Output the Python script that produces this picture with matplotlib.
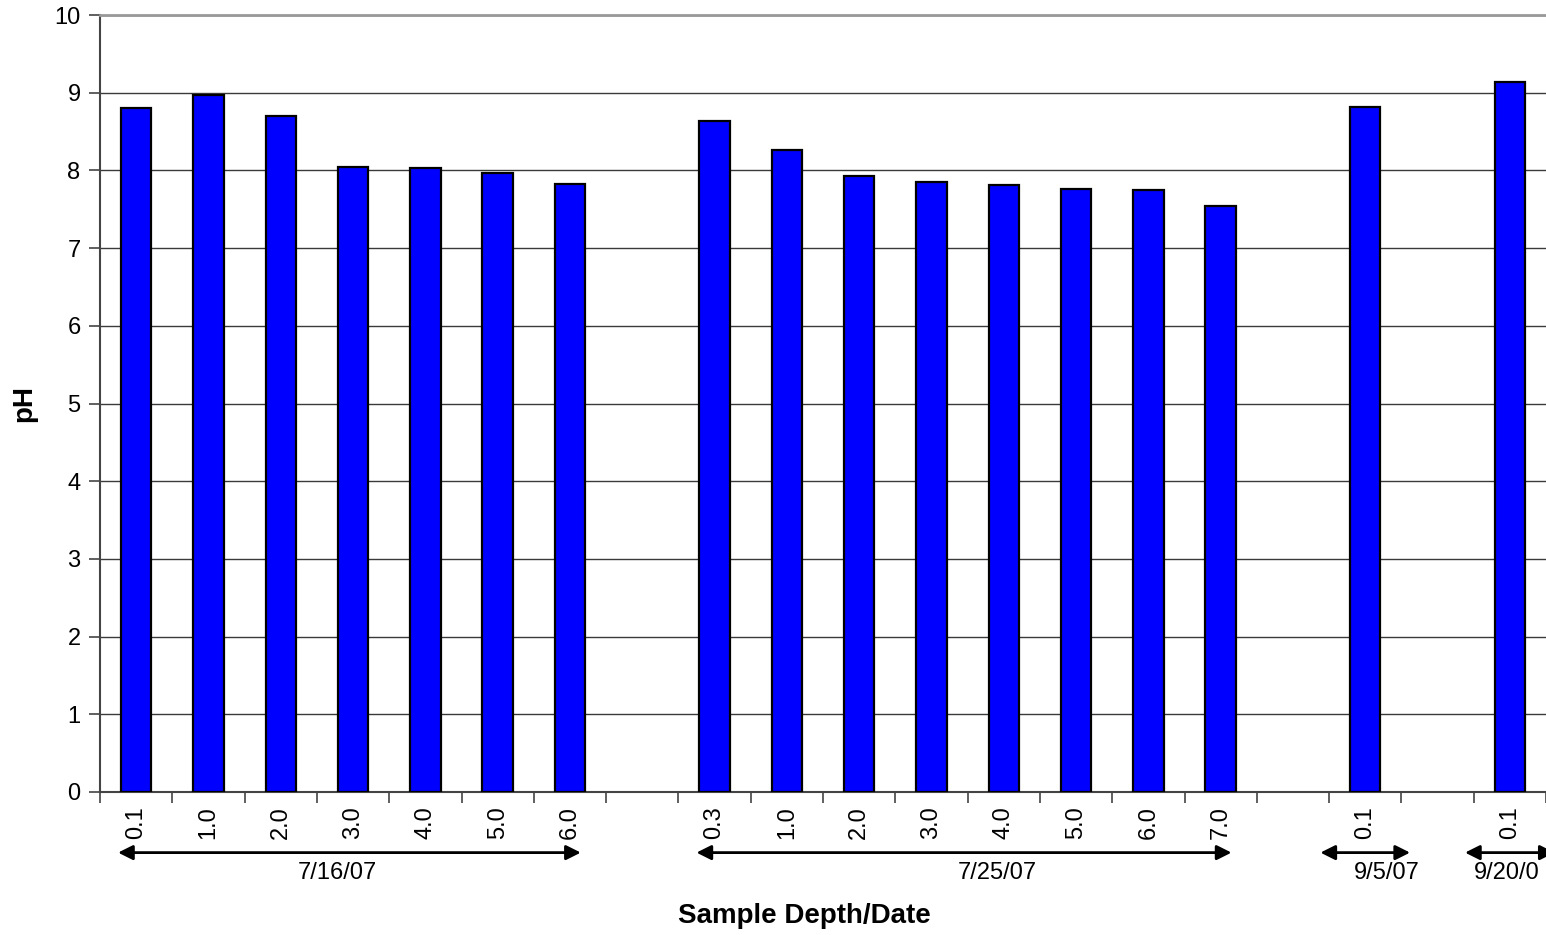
import numpy as np
import matplotlib.pyplot as plt
from matplotlib.transforms import blended_transform_factory

plt.rcParams['font.family'] = ['Liberation Sans', 'DejaVu Sans']

# sample depth labels (blank slots separate the sampling dates)
depths = ['0.1', '1.0', '2.0', '3.0', '4.0', '5.0', '6.0', '',
          '0.3', '1.0', '2.0', '3.0', '4.0', '5.0', '6.0', '7.0', '',
          '0.1', '', '0.1']
ph = [8.80, 8.97, 8.70, 8.04, 8.03, 7.97, 7.82, np.nan,
      8.64, 8.26, 7.93, 7.85, 7.81, 7.76, 7.75, 7.54, np.nan,
      8.82, np.nan, 9.14]
dates = ['7/16/07', '7/25/07', '9/5/07', '9/20/0']
date_first = [0, 8, 17, 19]
date_last = [6, 15, 17, 19]

fig = plt.figure(figsize=(15.46, 9.35), dpi=100)
ax = fig.add_axes([100/1546, 1 - 792/935, 1446/1546, 777/935])

x = np.arange(len(depths))
ax.bar(x, ph, width=0.42, color='#0000ff', edgecolor='black', linewidth=1.6, zorder=3)

ax.set_xlim(-0.5, len(depths) - 0.5)
ax.set_ylim(0, 10)
ax.set_yticks(range(0, 11))
ax.yaxis.grid(True, color='#3a3a3a', linewidth=1, zorder=0)

# major ticks on slot boundaries, labels on minor ticks at bar centres
ax.set_xticks(np.arange(-0.5, len(depths), 1.0))
ax.set_xticklabels([])
ax.set_xticks(x, minor=True)
ax.set_xticklabels(depths, minor=True, rotation=90, fontsize=17)
ax.tick_params(axis='x', which='major', length=8, width=1.2, color='#444444', direction='out')
ax.tick_params(axis='x', which='minor', length=0, pad=10)
ax.tick_params(axis='y', length=8, width=1.2, color='#444444', labelsize=17, pad=6)

for s in ['left', 'bottom']:
    ax.spines[s].set_color('#444444')
    ax.spines[s].set_linewidth(1.5)
ax.spines['top'].set_color('#999999')
ax.spines['top'].set_linewidth(2)
ax.spines['right'].set_visible(False)

ax.set_ylabel('pH', fontsize=20, fontweight='bold', labelpad=12)
ax.set_xlabel('Sample Depth/Date', fontsize=20, fontweight='bold', labelpad=46)
ax.xaxis.label.set_x(0.487)

# date arrows under the depth labels
trans = blended_transform_factory(ax.transData, ax.transAxes)
text_x = [2.78, 11.91, 17.3, 18.96]
for name, a, b, tx in zip(dates, date_first, date_last, text_x):
    if a == b:
        x0, x1 = a - 0.62, b + 0.62
    else:
        x0, x1 = a - 0.25, b + 0.15
    ax.annotate('', xy=(x1, -0.078), xytext=(x0, -0.078), xycoords=trans,
                textcoords=trans, annotation_clip=False,
                arrowprops=dict(arrowstyle='<|-|>', color='black', lw=2,
                                mutation_scale=22, shrinkA=0, shrinkB=0))
    ax.text(tx, -0.104, name, transform=trans, ha='center', va='center', fontsize=17)

fig.savefig('out.png', dpi=100)
